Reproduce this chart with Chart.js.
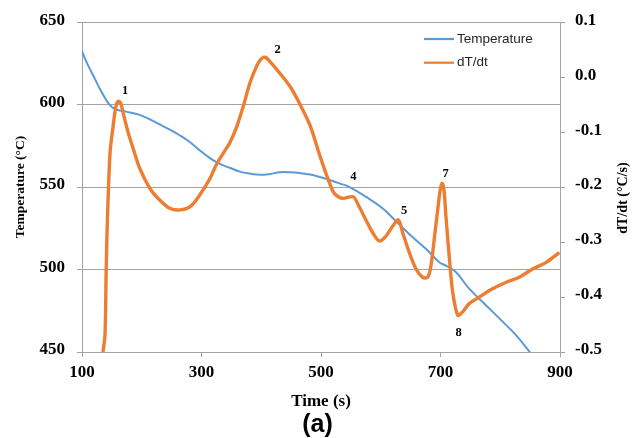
<!DOCTYPE html>
<html>
<head>
<meta charset="utf-8">
<script src="https://cdn.jsdelivr.net/npm/chart.js@4"></script>
<style>
html,body{margin:0;padding:0;background:#fff;}
#wrap{width:636px;height:438px;position:relative;}
</style>
</head>
<body>
<div id="wrap"><canvas id="c" width="636" height="438"></canvas></div>
<script>
// ---- data ----
const tempTime = [100,108,119,130,141,146,152,160,169,180,194,214,230,247,264,281,297,314,330,348,364,381,398,415,431,448,465,482,498,515,532,547,575,603,623,648,676,698,709,726,748,776,804,826,852];
const tempValue = [632.5,625.5,617.5,609.5,602.5,600,598.1,596.8,596.1,595.3,594.1,591.0,588.0,584.8,581.3,577.2,572.3,567.6,564.2,561.6,559.4,558.2,557.5,558,559,559,558.5,557.6,556.1,554.2,552.1,550.2,544.2,537.2,530.2,521.4,512.4,504.4,502.4,498.4,488.4,478.4,468.4,460.4,448.8];

const rateTime = [135,138.5,140.5,142.5,147,152,157,161,165,170,177,186,197,214,230,247,264,281,297,314,325,336,348,359,370,381,392,399,403.5,407,412,431,448,465,482,498,509.5,520.5,529,537,554,562.5,576.5,586.5,597.6,608.8,620,629.5,636.7,647.8,659,670,678.6,684,690,696,700,703,706,709,715,720.4,728.8,737,748,765,787,810,832,854,877,899];
const rateValue = [-0.5,-0.469,-0.349,-0.26,-0.137,-0.09,-0.052,-0.044,-0.048,-0.07,-0.1,-0.131,-0.167,-0.203,-0.2235,-0.2386,-0.2415,-0.2355,-0.2145,-0.1846,-0.159,-0.139,-0.118,-0.09,-0.0526,-0.0107,0.0194,0.032,0.0361,0.036,0.0313,0.0073,-0.0166,-0.0497,-0.0886,-0.1425,-0.1785,-0.2086,-0.2176,-0.2206,-0.2176,-0.2326,-0.2626,-0.283,-0.298,-0.289,-0.271,-0.2595,-0.283,-0.319,-0.349,-0.364,-0.364,-0.343,-0.29,-0.235,-0.202,-0.193,-0.207,-0.252,-0.331,-0.391,-0.433,-0.427,-0.412,-0.4,-0.385,-0.373,-0.364,-0.349,-0.337,-0.319];

const peakLabels = ['1','2','4','5','7','8'];
const peakTime = [172,427.5,554,639,708.7,730.5];
const peakRate = [-0.0256,0.0493,-0.1816,-0.2433,-0.1756,-0.4658];

const seriesNames = ['Temperature','dT/dt'];
const xTitle = 'Time (s)';
const yTitle = 'Temperature (°C)';
const y1Title = 'dT/dt (°C/s)';
const caption = '(a)';

const BLUE = '#5B9BD5';
const ORANGE = '#ED7D31';
const GRID = '#a3a3a3';

const tickFont = {family:'"Liberation Serif", "Times New Roman", serif', size:17, weight:'bold'};

const extras = {
  id:'extras',
  afterDraw(chart){
    const ctx = chart.ctx;
    const xs = chart.scales.x, ys = chart.scales.y1;
    ctx.save();
    ctx.fillStyle = '#000';
    ctx.font = 'bold 12.5px "Liberation Serif", serif';
    ctx.textAlign = 'center';
    ctx.textBaseline = 'middle';
    peakLabels.forEach((l,i)=>{
      ctx.fillText(l, xs.getPixelForValue(peakTime[i]), ys.getPixelForValue(peakRate[i]));
    });
    ctx.save();
    ctx.translate(623, 198);
    ctx.rotate(-Math.PI/2);
    ctx.font = 'bold 14px "Liberation Serif", serif';
    ctx.fillText(y1Title, 0, 0);
    ctx.restore();
    ctx.font = 'bold 25px "Liberation Sans", Arial, sans-serif';
    ctx.fillText(caption, 317.5, 425);
    const cols = [BLUE, ORANGE];
    const ly = [39, 62.7];
    ctx.font = '13.5px "Liberation Sans", Arial, sans-serif';
    ctx.textAlign = 'left';
    seriesNames.forEach((n,i)=>{
      ctx.strokeStyle = cols[i];
      ctx.lineWidth = 2.2;
      ctx.beginPath();
      ctx.moveTo(424, ly[i]);
      ctx.lineTo(454, ly[i]);
      ctx.stroke();
      ctx.fillStyle = '#262626';
      ctx.fillText(n, 457, ly[i]);
    });
    ctx.restore();
  }
};

new Chart(document.getElementById('c'), {
  type:'line',
  data:{
    datasets:[
      {label:seriesNames[0], data:tempTime.map((t,i)=>({x:t,y:tempValue[i]})), borderColor:BLUE, borderWidth:2, pointRadius:0, yAxisID:'y', tension:0.4, order:1},
      {label:seriesNames[1], data:rateTime.map((t,i)=>({x:t,y:rateValue[i]})), borderColor:ORANGE, borderWidth:3.4, pointRadius:0, yAxisID:'y1', tension:0.3, order:0}
    ]
  },
  options:{
    responsive:false,
    animation:false,
    layout:{padding:{top:18,left:0,right:0,bottom:0}},
    plugins:{legend:{display:false}, tooltip:{enabled:false}},
    scales:{
      x:{
        type:'linear', min:100, max:900,
        ticks:{stepSize:200, font:tickFont, color:'#000', padding:5, maxRotation:0},
        grid:{drawOnChartArea:false, color:GRID, tickLength:5},
        border:{color:GRID, width:1},
        title:{display:true, text:xTitle, color:'#000', font:{family:'"Liberation Serif", serif', size:17, weight:'bold'}, padding:{top:0,bottom:26}},
        afterFit(s){ s.height = 86; }
      },
      y:{
        position:'left', min:450, max:650,
        ticks:{stepSize:50, font:tickFont, color:'#000', padding:12, labelOffset:-2},
        grid:{color:GRID, tickLength:5},
        border:{color:GRID, width:1},
        title:{display:true, text:yTitle, color:'#000', font:{family:'"Liberation Serif", serif', size:13.5, weight:'bold'}, padding:{top:12,bottom:0}},
        afterFit(s){ s.width = 82; }
      },
      y1:{
        position:'right', min:-0.5, max:0.1,
        ticks:{stepSize:0.1, font:tickFont, color:'#000', padding:10, labelOffset:-2, callback:v=>{const n=Number(v); return (Math.abs(n)<1e-9?0:n).toFixed(1);}},
        grid:{drawOnChartArea:false, color:GRID, tickLength:5},
        border:{color:GRID, width:1},
        afterFit(s){ s.width = 76; }
      }
    }
  },
  plugins:[extras]
});
</script>
</body>
</html>
